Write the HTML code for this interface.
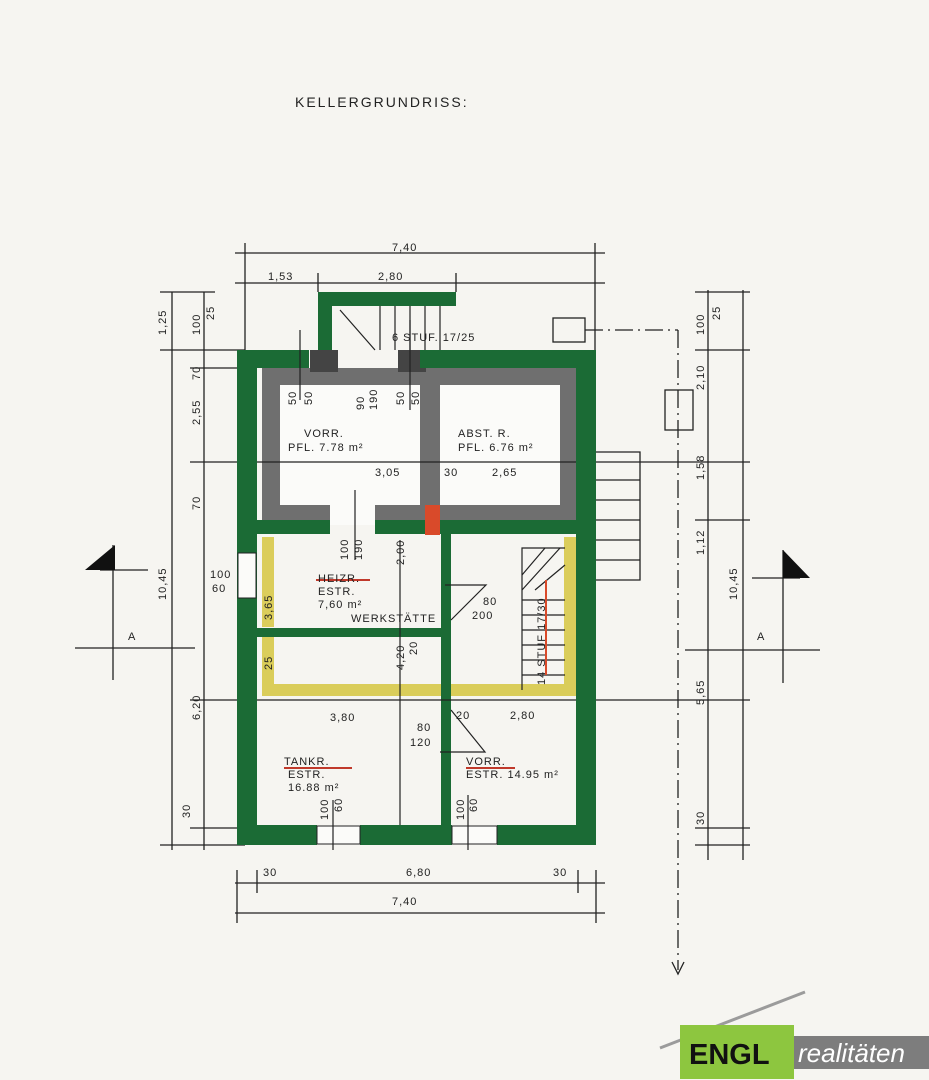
<!DOCTYPE html>
<html><head><meta charset="utf-8"><style>
html,body{margin:0;padding:0;background:#f6f5f1;}
svg{display:block;}
text{font-family:"Liberation Sans",sans-serif;fill:#222;}
</style></head><body>
<svg width="929" height="1080" viewBox="0 0 929 1080" xmlns="http://www.w3.org/2000/svg">
<rect width="929" height="1080" fill="#f6f5f1"/>
<text x="295" y="107" font-size="14" letter-spacing="2">KELLERGRUNDRISS:</text>

<!-- dimension lines -->
<g stroke="#222" stroke-width="1.3" fill="none">
<line x1="235" y1="253" x2="605" y2="253"/>
<line x1="235" y1="283" x2="605" y2="283"/>
<line x1="245" y1="243" x2="245" y2="350"/><line x1="595" y1="243" x2="595" y2="350"/>
<line x1="318" y1="273" x2="318" y2="292"/><line x1="456" y1="273" x2="456" y2="292"/>
<line x1="235" y1="883" x2="605" y2="883"/>
<line x1="235" y1="913" x2="605" y2="913"/>
<line x1="237" y1="870" x2="237" y2="923"/><line x1="596" y1="870" x2="596" y2="923"/>
<line x1="257" y1="870" x2="257" y2="893"/><line x1="578" y1="870" x2="578" y2="893"/>
<line x1="172" y1="292" x2="172" y2="850"/>
<line x1="204" y1="292" x2="204" y2="850"/>
<line x1="160" y1="292" x2="215" y2="292"/><line x1="160" y1="350" x2="245" y2="350"/>
<line x1="160" y1="845" x2="245" y2="845"/><line x1="190" y1="700" x2="245" y2="700"/>
<line x1="190" y1="368" x2="245" y2="368"/><line x1="190" y1="462" x2="245" y2="462"/>
<line x1="190" y1="828" x2="245" y2="828"/>
<line x1="708" y1="290" x2="708" y2="860"/>
<line x1="743" y1="290" x2="743" y2="860"/>
<line x1="695" y1="292" x2="750" y2="292"/><line x1="695" y1="350" x2="750" y2="350"/>
<line x1="695" y1="845" x2="750" y2="845"/><line x1="695" y1="700" x2="750" y2="700"/>
<line x1="695" y1="462" x2="750" y2="462"/><line x1="695" y1="520" x2="750" y2="520"/>
<line x1="695" y1="828" x2="750" y2="828"/>
<line x1="596" y1="462" x2="695" y2="462"/><line x1="596" y1="700" x2="695" y2="700"/>
<!-- section marks -->
<line x1="75" y1="648" x2="195" y2="648"/><line x1="113" y1="545" x2="113" y2="680"/>
<line x1="100" y1="570" x2="148" y2="570"/>
<line x1="685" y1="650" x2="820" y2="650"/><line x1="783" y1="550" x2="783" y2="683"/>
<line x1="752" y1="578" x2="800" y2="578"/>
<!-- dash-dot axis -->
<line x1="678" y1="330" x2="678" y2="970" stroke-dasharray="18,5,2,5"/>
<line x1="585" y1="330" x2="678" y2="330" stroke-dasharray="18,5,2,5"/>
<polyline points="672,962 678,974 684,962"/>
<rect x="553" y="318" width="32" height="24"/>
<rect x="665" y="390" width="28" height="40"/>
<!-- outside stairs right -->
<polyline points="596,452 640,452 640,580 596,580"/>
<line x1="596" y1="480" x2="640" y2="480"/><line x1="596" y1="500" x2="640" y2="500"/>
<line x1="596" y1="520" x2="640" y2="520"/><line x1="596" y1="540" x2="640" y2="540"/>
<line x1="596" y1="560" x2="640" y2="560"/>
</g>
<polygon points="85,570 115,545 115,570" fill="#111"/>
<polygon points="783,550 810,578 783,578" fill="#111"/>

<!-- grey hatched inner walls -->
<rect x="262" y="368" width="316" height="152" fill="#6f6f6f"/>
<rect x="280" y="385" width="140" height="120" fill="#fbfbf9"/>
<rect x="440" y="385" width="120" height="120" fill="#fbfbf9"/>
<rect x="330" y="505" width="45" height="20" fill="#fbfbf9"/>
<!-- entry stair top -->
<rect x="318" y="292" width="138" height="14" fill="#1b6b35"/>
<rect x="318" y="292" width="14" height="60" fill="#1b6b35"/>
<rect x="310" y="350" width="28" height="22" fill="#444"/>
<rect x="398" y="350" width="28" height="22" fill="#444"/>
<!-- green outer walls -->
<g fill="#1b6b35">
<rect x="237" y="350" width="20" height="495"/>
<rect x="576" y="350" width="20" height="495"/>
<rect x="237" y="350" width="72" height="18"/>
<rect x="420" y="350" width="176" height="18"/>
<rect x="237" y="825" width="80" height="20"/>
<rect x="360" y="825" width="92" height="20"/>
<rect x="497" y="825" width="99" height="20"/>
<rect x="257" y="520" width="73" height="14"/>
<rect x="375" y="520" width="201" height="14"/>
<rect x="441" y="534" width="10" height="291"/>
<rect x="257" y="628" width="184" height="9"/>
</g>
<rect x="425" y="505" width="15" height="30" fill="#d94a2a"/>
<!-- windows -->
<g fill="#fbfbf9" stroke="#222" stroke-width="1">
<rect x="238" y="553" width="18" height="45"/>
<rect x="317" y="826" width="43" height="18"/>
<rect x="452" y="826" width="45" height="18"/>
</g>
<!-- yellow -->
<g fill="#d8c94a" opacity="0.9">
<rect x="262" y="537" width="12" height="90"/>
<rect x="262" y="637" width="12" height="58"/>
<rect x="262" y="684" width="179" height="12"/>
<rect x="451" y="684" width="125" height="12"/>
<rect x="564" y="537" width="12" height="150"/>
</g>
<!-- stairs inner -->
<g stroke="#222" stroke-width="1.2" fill="none">
<polyline points="522,690 522,548 565,548"/>
<line x1="522" y1="600" x2="565" y2="600"/>
<line x1="522" y1="615" x2="565" y2="615"/><line x1="522" y1="630" x2="565" y2="630"/>
<line x1="522" y1="645" x2="565" y2="645"/><line x1="522" y1="660" x2="565" y2="660"/>
<line x1="522" y1="675" x2="565" y2="675"/>
<line x1="522" y1="590" x2="560" y2="548"/><line x1="522" y1="575" x2="545" y2="548"/>
<line x1="535" y1="590" x2="565" y2="565"/>
<line x1="340" y1="310" x2="375" y2="350"/>
<line x1="380" y1="306" x2="380" y2="350"/><line x1="395" y1="306" x2="395" y2="350"/>
<line x1="410" y1="306" x2="410" y2="350"/><line x1="425" y1="306" x2="425" y2="350"/>
<line x1="440" y1="306" x2="440" y2="350"/>
<line x1="300" y1="330" x2="300" y2="400"/><line x1="410" y1="320" x2="410" y2="410"/>
<line x1="355" y1="490" x2="355" y2="560"/>
<polyline points="445,585 486,585 451,620"/>
<polyline points="451,710 485,752 440,752"/>
<line x1="257" y1="462" x2="576" y2="462"/>
<line x1="257" y1="700" x2="576" y2="700"/>
<line x1="400" y1="540" x2="400" y2="825"/>
<line x1="333" y1="800" x2="333" y2="850"/><line x1="468" y1="795" x2="468" y2="850"/>
</g>
<line x1="546" y1="580" x2="546" y2="675" stroke="#d94a2a" stroke-width="2"/>
<line x1="316" y1="580" x2="370" y2="580" stroke="#c0392b" stroke-width="2"/>
<line x1="284" y1="768" x2="352" y2="768" stroke="#c0392b" stroke-width="2"/>
<line x1="466" y1="768" x2="515" y2="768" stroke="#c0392b" stroke-width="2"/>

<!-- labels -->
<g font-size="11" letter-spacing="1">
<text x="392" y="251">7,40</text>
<text x="268" y="280">1,53</text><text x="378" y="280">2,80</text>
<text x="392" y="341">6 STUF. 17/25</text>
<text x="304" y="437">VORR.</text><text x="288" y="451">PFL. 7.78 m²</text>
<text x="458" y="437">ABST. R.</text><text x="458" y="451">PFL. 6.76 m²</text>
<text x="375" y="476">3,05</text><text x="444" y="476">30</text><text x="492" y="476">2,65</text>
<text x="318" y="582">HEIZR.</text><text x="318" y="595">ESTR.</text><text x="318" y="608">7,60 m²</text>
<text x="351" y="622">WERKSTÄTTE</text><text x="472" y="619">200</text><text x="483" y="605">80</text>
<text x="330" y="721">3,80</text><text x="456" y="719">20</text><text x="510" y="719">2,80</text>
<text x="417" y="731">80</text><text x="410" y="746">120</text>
<text x="284" y="765">TANKR.</text><text x="288" y="778">ESTR.</text><text x="288" y="791">16.88 m²</text>
<text x="466" y="765">VORR.</text><text x="466" y="778">ESTR. 14.95 m²</text>
<text x="210" y="578">100</text><text x="212" y="592">60</text>
<text x="263" y="876">30</text><text x="406" y="876">6,80</text><text x="553" y="876">30</text>
<text x="392" y="905">7,40</text>
<text x="128" y="640">A</text><text x="757" y="640">A</text>
</g>
<g font-size="11" letter-spacing="1">
<text transform="translate(166,335) rotate(-90)">1,25</text>
<text transform="translate(200,335) rotate(-90)">100</text>
<text transform="translate(214,320) rotate(-90)">25</text>
<text transform="translate(200,380) rotate(-90)">70</text>
<text transform="translate(200,425) rotate(-90)">2,55</text>
<text transform="translate(200,510) rotate(-90)">70</text>
<text transform="translate(166,600) rotate(-90)">10,45</text>
<text transform="translate(200,720) rotate(-90)">6,20</text>
<text transform="translate(190,818) rotate(-90)">30</text>
<text transform="translate(704,335) rotate(-90)">100</text>
<text transform="translate(720,320) rotate(-90)">25</text>
<text transform="translate(704,390) rotate(-90)">2,10</text>
<text transform="translate(704,480) rotate(-90)">1,58</text>
<text transform="translate(704,555) rotate(-90)">1,12</text>
<text transform="translate(737,600) rotate(-90)">10,45</text>
<text transform="translate(704,705) rotate(-90)">5,65</text>
<text transform="translate(704,825) rotate(-90)">30</text>
<text transform="translate(296,405) rotate(-90)">50</text>
<text transform="translate(312,405) rotate(-90)">50</text>
<text transform="translate(364,410) rotate(-90)">90</text>
<text transform="translate(377,410) rotate(-90)">190</text>
<text transform="translate(404,405) rotate(-90)">50</text>
<text transform="translate(419,405) rotate(-90)">50</text>
<text transform="translate(348,560) rotate(-90)">100</text>
<text transform="translate(362,560) rotate(-90)">190</text>
<text transform="translate(404,565) rotate(-90)">2,00</text>
<text transform="translate(272,620) rotate(-90)">3,65</text>
<text transform="translate(272,670) rotate(-90)">25</text>
<text transform="translate(404,670) rotate(-90)">4,20</text>
<text transform="translate(417,655) rotate(-90)">20</text>
<text transform="translate(545,685) rotate(-90)">14 STUF 17/30</text>
<text transform="translate(328,820) rotate(-90)">100</text>
<text transform="translate(342,812) rotate(-90)">60</text>
<text transform="translate(464,820) rotate(-90)">100</text>
<text transform="translate(477,812) rotate(-90)">60</text>
</g>

<!-- logo -->
<line x1="660" y1="1048" x2="805" y2="992" stroke="#9b9b9b" stroke-width="3"/>
<rect x="680" y="1025" width="114" height="54" fill="#8dc63f"/>
<rect x="794" y="1036" width="135" height="33" fill="#7d7d7d"/>
<text x="689" y="1064" font-size="29" font-weight="bold" style="fill:#111">ENGL</text>
<text x="798" y="1062" font-size="26" font-style="italic" style="fill:#fff">realitäten</text>
</svg>
</body></html>
